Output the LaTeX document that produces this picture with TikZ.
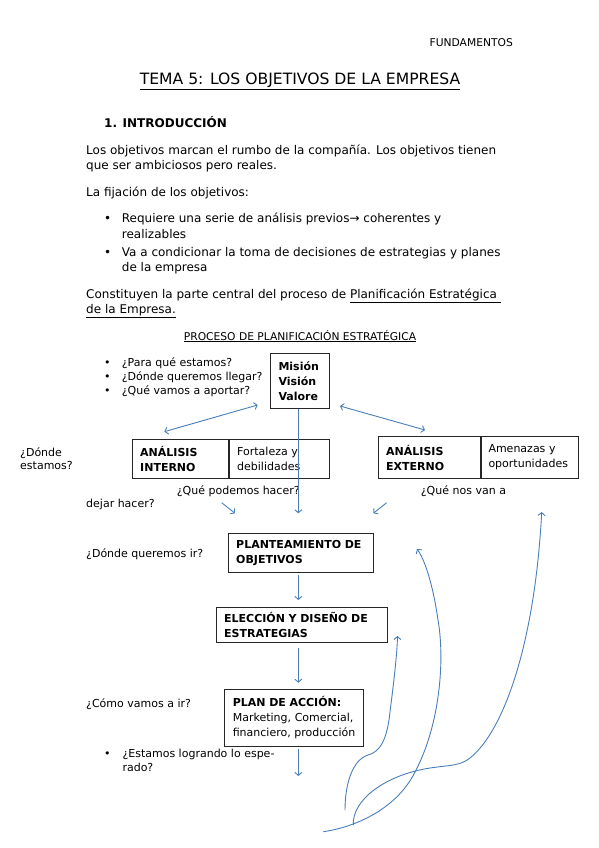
\documentclass[tikz,border=0pt]{standalone}
\usepackage{fontspec}
\setmainfont{DejaVu Sans}
\usetikzlibrary{arrows.meta}

\definecolor{azul}{HTML}{4A7EBB}

\tikzset{
  txt/.style={anchor=base west, inner sep=0pt, font=\fontsize{12}{15}\selectfont},
  dtxt/.style={anchor=base west, inner sep=0pt, font=\fontsize{11}{14}\selectfont},
  caja/.style={draw=black!85, line width=1pt, anchor=north west, align=left,
    inner xsep=8pt, inner ysep=0pt, font=\fontsize{11}{15}\selectfont},
  flecha/.style={azul, line width=0.9pt, -{Straight Barb[length=3pt,width=7pt]}},
  doble/.style={azul, line width=0.9pt,
    {Straight Barb[length=3pt,width=7pt]}-{Straight Barb[length=3pt,width=7pt]}}
}

\begin{document}
\begin{tikzpicture}[x=1pt, y=-1pt]

    \useasboundingbox (0,0) rectangle (599,848);

    % Header
    \node[anchor=base east, inner sep=0pt, font=\fontsize{10.7}{12}\selectfont] (cab) at (513,47) {FUNDAMENTOS};
    \node[anchor=base, inner sep=0pt, font=\fontsize{15.6}{18}\selectfont] (titulo) at (300,85) {\underline{TEMA 5: LOS OBJETIVOS DE LA EMPRESA}};
    \node[txt, font=\fontsize{12}{15}\selectfont\bfseries] (secc) at (104,128) {1. INTRODUCCIÓN};

    % Intro text
    \node[txt] (p1) at (86,154) {Los objetivos marcan el rumbo de la compañía. Los objetivos tienen};
    \node[txt] (p2) at (86,169.5) {que ser ambiciosos pero reales.};
    \node[txt] (p3) at (86,196.5) {La fijación de los objetivos:};
    \node[txt] (b1) at (104,222.7) {•};
    \node[txt] (p4) at (121.7,222.7) {Requiere una serie de análisis previos→ coherentes y};
    \node[txt] (p5) at (121.7,238.3) {realizables};
    \node[txt] (b2) at (104,256) {•};
    \node[txt] (p6) at (121.7,256) {Va a condicionar la toma de decisiones de estrategias y planes};
    \node[txt] (p7) at (121.7,271.7) {de la empresa};
    \node[txt] (p8) at (86,298.3) {Constituyen la parte central del proceso de \underline{Planificación Estratégica\ }};
    \node[txt] (p9) at (86,313.3) {\underline{de la Empresa.}};

    % Diagram heading
    \node[anchor=base, inner sep=0pt, font=\fontsize{10.7}{12}\selectfont] (proceso) at (300,340) {\underline{PROCESO DE PLANIFICACIÓN ESTRATÉGICA}};

    % Questions
    \node[dtxt] (q1b) at (104,366) {•};
    \node[dtxt] (q1) at (121.7,366) {¿Para qué estamos?};
    \node[dtxt] (q2b) at (104,380) {•};
    \node[dtxt] (q2) at (121.7,380) {¿Dónde queremos llegar?};
    \node[dtxt] (q3b) at (104,394) {•};
    \node[dtxt] (q3) at (121.7,394) {¿Qué vamos a aportar?};
    \node[dtxt] (q4) at (20,456) {¿Dónde};
    \node[dtxt] (q5) at (20,469.3) {estamos?};
    \node[dtxt] (q6) at (176.7,494) {¿Qué podemos hacer?};
    \node[dtxt] (q7) at (420.7,494) {¿Qué nos van a};
    \node[dtxt] (q8) at (86,507.3) {dejar hacer?};
    \node[dtxt] (q9) at (86,557.3) {¿Dónde queremos ir?};
    \node[dtxt] (q10) at (86,707.3) {¿Cómo vamos a ir?};
    \node[dtxt] (q11b) at (104,757.3) {•};
    \node[dtxt] (q11) at (122.3,757.3) {¿Estamos logrando lo espe-};
    \node[dtxt] (q12) at (122.3,771.7) {rado?};

    % Boxes
    \node[caja, text width=43.3pt, minimum height=54.4pt] (mision) at (270,353.3)
        {\textbf{Misión}\\\textbf{Visión}\\\textbf{Valore}};
    \node[caja, text width=80pt, minimum height=38.4pt] (intA) at (131.7,439.3)
        {\textbf{ANÁLISIS}\\\textbf{INTERNO}};
    \node[caja, text width=84.6pt, minimum height=38.4pt] (intB) at (intA.north east)
        {Fortaleza y\\debilidades};
    \node[caja, text width=86.3pt, minimum height=42.6pt] (extA) at (377.7,435.7)
        {\textbf{ANÁLISIS}\\\textbf{EXTERNO}};
    \node[caja, inner xsep=7pt, text width=82.7pt, minimum height=42.6pt] (extB) at (extA.north east)
        {Amenazas y\\oportunidades};
    \node[caja, text width=129.6pt, minimum height=38.4pt] (plant) at (227.7,533.3)
        {\textbf{\mbox{PLANTEAMIENTO DE}}\\\textbf{OBJETIVOS}};
    \node[caja, text width=155.3pt, minimum height=35.6pt] (elec) at (215.7,606.7)
        {\textbf{\mbox{ELECCIÓN Y DISEÑO DE}}\\\textbf{ESTRATEGIAS}};
    \node[caja, text width=122.7pt, minimum height=56.7pt] (plan) at (224.3,689)
        {\textbf{PLAN DE ACCIÓN:}\\\mbox{Marketing, Comercial,}\\\mbox{financiero, producción}};

    % Arrow ends
    \coordinate (eje) at (298.3,0);
    \coordinate (llegada) at (298.3,513.3);
    \coordinate (fin) at (298.3,776);
    \coordinate (pi1) at (221.7,502.7);
    \coordinate (pi2) at (235,513.3);
    \coordinate (pe1) at (386.7,502.7);
    \coordinate (pe2) at (373.3,513.3);
    \coordinate (dI1) at (257.7,405);
    \coordinate (dI2) at (164.3,431.7);
    \coordinate (dE1) at (340,406);
    \coordinate (dE2) at (425,430);

    % Arrows
    \draw[doble] (dI1) -- (dI2);
    \draw[doble] (dE1) -- (dE2);
    \draw[flecha] (mision.south -| llegada) -- (llegada);
    \draw[flecha] (pi1) -- (pi2);
    \draw[flecha] (pe1) -- (pe2);
    \draw[flecha, shorten <=2.3pt, shorten >=6.7pt] (plant.south -| eje) -- (elec.north -| eje);
    \draw[flecha, shorten <=4.4pt, shorten >=6.3pt] (elec.south -| eje) -- (plan.north -| eje);
    \draw[flecha, shorten <=2.6pt] (plan.south -| fin) -- (fin);

    % Feedback curves
    \coordinate (cA) at (345,810);
    \coordinate (tA) at (397.5,636);
    \coordinate (cB) at (323.3,831.7);
    \coordinate (tB) at (417,549);
    \coordinate (raiz) at (353.3,825);
    \coordinate (tC) at (541.7,512);

    \draw[flecha]
        (cA)
        .. controls (345,785) and (352,760) ..
        (368,755)
        .. controls (380,752) and (387,740) ..
        (390,712)
        .. controls (394,680) and (397,655) ..
        (tA);
    \draw[flecha]
        (cB)
        .. controls (350,828) and (395,812) ..
        (415,772)
        .. controls (440,725) and (445,660) ..
        (438,620)
        .. controls (433,585) and (425,560) ..
        (tB);
    \draw[flecha]
        (raiz)
        .. controls (352,800) and (385,775) ..
        (430,768)
        .. controls (450,765) and (460,766) ..
        (470,758)
        .. controls (505,730) and (535,640) ..
        (tC);

\end{tikzpicture}
\end{document}
